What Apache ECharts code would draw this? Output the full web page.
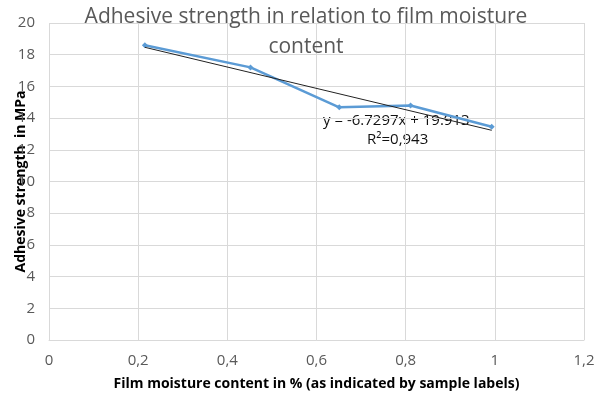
<!DOCTYPE html>
<html>
<head>
<meta charset="UTF-8">
<script type="text/javascript" src="https://cdn.jsdelivr.net/npm/echarts@6/dist/echarts.min.js"></script>
<title>Adhesive strength</title>
<style>
	html, body { margin: 0; padding: 0; background: #fff; }
	#main { width: 600px; height: 400px; }
</style>
<script>
	// measured points (moisture %, strength MPa)
	var moisture = [0.215, 0.452, 0.651, 0.811, 0.993];
	var strength = [18.6, 17.2, 14.68, 14.8, 13.45];
	// linear trend as printed on the chart
	var trendSlope = -6.7297;
	var trendIntercept = 19.913;
	var equationText = 'y = -6.7297x + 19.913';
	var r2Text = 'R\u00b2=0,943';

	function commaNum(v) {
		return String(Math.round(v * 10) / 10).replace('.', ',');
	}

	window.onload = function() {
		var myChart = echarts.init(document.getElementById('main'));
		var pts = [];
		for (var i = 0; i < moisture.length; i++) {
			pts.push([moisture[i], strength[i]]);
		}
		var x0 = moisture[0], x1 = moisture[moisture.length - 1];
		var trend = [
			[x0, trendSlope * x0 + trendIntercept],
			[x1, trendSlope * x1 + trendIntercept]
		];
		var font = 'Open Sans';
		myChart.setOption({
			animation: false,
			title: {
				text: 'Adhesive strength in relation to film moisture\ncontent',
				left: 301,
				textAlign: 'center',
				top: -3,
				textStyle: {
					fontFamily: font,
					fontSize: 21,
					fontWeight: 'normal',
					color: '#595959',
					lineHeight: 30
				}
			},
			grid: {
				left: 49,
				right: 16,
				top: 23,
				bottom: 60,
				containLabel: false,
				outerBoundsMode: 'none'
			},
			xAxis: {
				type: 'value',
				min: 0,
				max: 1.2,
				interval: 0.2,
				name: 'Film moisture content in % (as indicated by sample labels)',
				nameLocation: 'middle',
				nameGap: 37,
				nameMoveOverlap: false,
				nameTextStyle: {
					fontFamily: font,
					fontSize: 14,
					fontWeight: 'bold',
					color: '#000'
				},
				axisLine: { lineStyle: { color: '#d9d9d9', width: 1 } },
				axisTick: { show: false },
				axisLabel: {
					margin: 13,
					fontFamily: font,
					fontSize: 15,
					color: '#595959',
					formatter: commaNum
				},
				splitLine: { show: true, lineStyle: { color: '#d9d9d9' } }
			},
			yAxis: {
				type: 'value',
				min: 0,
				max: 20,
				interval: 2,
				name: 'Adhesive strength  in MPa',
				nameLocation: 'middle',
				nameRotate: 90,
				nameGap: 21,
				nameMoveOverlap: false,
				nameTextStyle: {
					fontFamily: font,
					fontSize: 14,
					fontWeight: 'bold',
					color: '#000'
				},
				axisLine: { show: false },
				axisTick: { show: false },
				axisLabel: {
					margin: 14,
					fontFamily: font,
					fontSize: 15,
					color: '#595959'
				},
				splitLine: { show: true, lineStyle: { color: '#d9d9d9' } }
			},
			series: [
				{
					name: 'trend',
					type: 'line',
					data: trend,
					symbol: 'none',
					lineStyle: { color: '#222', width: 1 },
					z: 3
				},
				{
					name: 'strength',
					type: 'line',
					data: pts,
					symbol: 'diamond',
					symbolSize: 6,
					lineStyle: { color: '#5b9bd5', width: 2.5 },
					itemStyle: { color: '#5b9bd5' },
					z: 2
				}
			],
			graphic: [
				{
					type: 'text',
					left: 323,
					top: 113,
					style: {
						text: equationText,
						fontFamily: font,
						fontSize: 15,
						fill: '#111'
					}
				},
				{
					type: 'text',
					left: 367,
					top: 132,
					style: {
						text: r2Text,
						fontFamily: font,
						fontSize: 15,
						fill: '#111'
					}
				}
			]
		});
	};
</script>
</head>
<body>
<div id="main"></div>
</body>
</html>
